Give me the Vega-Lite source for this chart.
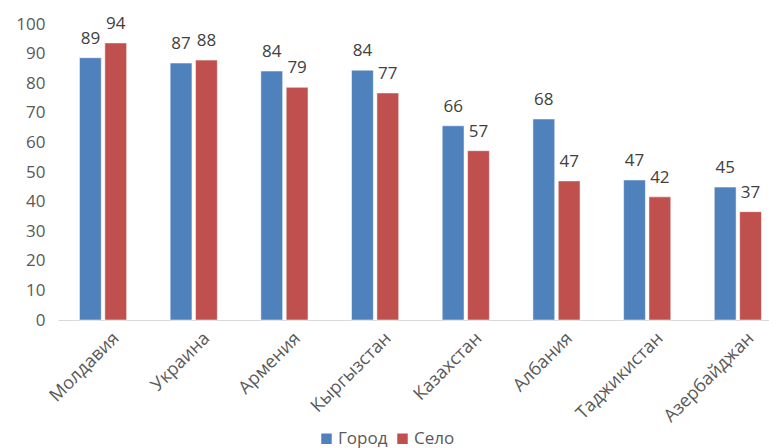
{
  "$schema": "https://vega.github.io/schema/vega-lite/v6.json",
  "autosize": {"type": "none"},
  "padding": {"left": 58, "top": 24, "right": 0, "bottom": 128},
  "width": 711,
  "height": 296,
  "background": "white",
  "config": {"view": {"stroke": null}, "font": "Open Sans"},
  "data": {"values": [
    {"country": "Молдавия", "type": "Город", "value": 88.6},
    {"country": "Молдавия", "type": "Село", "value": 93.6},
    {"country": "Украина", "type": "Город", "value": 86.8},
    {"country": "Украина", "type": "Село", "value": 87.8},
    {"country": "Армения", "type": "Город", "value": 84.1},
    {"country": "Армения", "type": "Село", "value": 78.6},
    {"country": "Кыргызстан", "type": "Город", "value": 84.4},
    {"country": "Кыргызстан", "type": "Село", "value": 76.7},
    {"country": "Казахстан", "type": "Город", "value": 65.6},
    {"country": "Казахстан", "type": "Село", "value": 57.2},
    {"country": "Албания", "type": "Город", "value": 67.9},
    {"country": "Албания", "type": "Село", "value": 47.0},
    {"country": "Таджикистан", "type": "Город", "value": 47.3},
    {"country": "Таджикистан", "type": "Село", "value": 41.6},
    {"country": "Азербайджан", "type": "Город", "value": 44.9},
    {"country": "Азербайджан", "type": "Село", "value": 36.6}
  ]},
  "encoding": {
    "x": {
      "field": "country", "type": "nominal", "sort": null,
      "scale": {"paddingInner": 0.48, "paddingOuter": 0.16, "align": 0.74},
      "axis": {
        "title": null, "labelAngle": -45, "labelAlign": "right", "labelBaseline": "top",
        "labelFontSize": 18, "labelColor": "#595959", "ticks": false,
        "domainColor": "#d9d9d9", "domainWidth": 1, "labelPadding": 9, "labelOffset": 7
      }
    },
    "xOffset": {"field": "type", "type": "nominal", "scale": {"paddingInner": 0.14}},
    "y": {
      "field": "value", "type": "quantitative",
      "scale": {"domain": [0, 100]},
      "axis": {
        "title": null, "values": [0,10,20,30,40,50,60,70,80,90,100], "grid": false, "domain": false, "ticks": false,
        "labelFontSize": 17, "labelColor": "#595959", "labelPadding": 13
      }
    }
  },
  "layer": [
    {
      "mark": {"type": "bar", "stroke": "#ffffff", "strokeOpacity": 0.5, "strokeWidth": 1},
      "encoding": {
        "color": {
          "field": "type", "type": "nominal",
          "scale": {"domain": ["Город", "Село"], "range": ["#4F81BD", "#C0504D"]},
          "legend": {
            "title": null, "orient": "none", "direction": "horizontal",
            "legendX": 260, "legendY": 406, "symbolType": "square", "symbolSize": 110,
            "symbolStrokeWidth": 0, "labelFontSize": 17, "labelColor": "#595959", "columnPadding": 6, "labelOffset": 3
          }
        }
      }
    },
    {
      "mark": {"type": "text", "dy": -19, "fontSize": 17, "color": "#404040"},
      "encoding": {"text": {"field": "value", "type": "quantitative", "format": ".0f"}}
    }
  ]
}
